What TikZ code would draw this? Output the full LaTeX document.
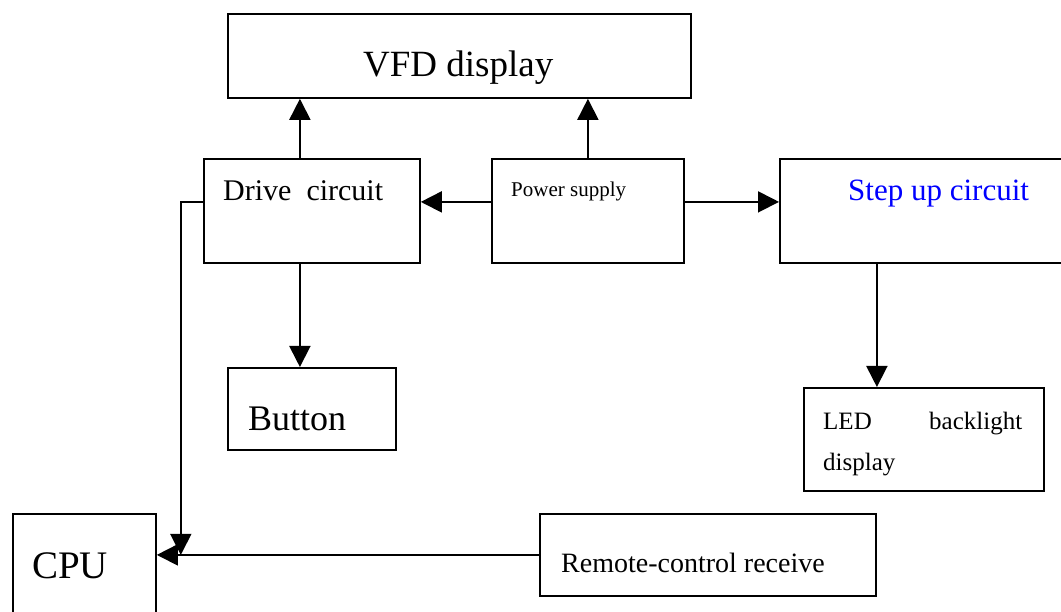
\documentclass[tikz,border=0pt]{standalone}
\usepackage{fontspec}
\setmainfont{Liberation Serif}
\usetikzlibrary{arrows.meta}

\begin{document}
\begin{tikzpicture}[x=1pt, y=-1pt,
	box/.style={draw, line width=1.8pt, inner sep=0pt, anchor=north west},
	txt/.style={inner sep=0pt, anchor=base west},
	arr/.style={line width=1.8pt, -{Triangle[length=21pt, width=21pt]}}]
	\useasboundingbox (0,0) rectangle (1061,612);
	\clip (0,0) rectangle (1061,612);

	% boxes
	\node[box, minimum width=463pt, minimum height=84pt] (vfd) at (227,13) {};
	\node[box, minimum width=216pt, minimum height=104pt] (drive) at (203,158) {};
	\node[box, minimum width=192pt, minimum height=104pt] (power) at (491,158) {};
	\node[box, minimum width=340pt, minimum height=104pt] (stepup) at (779,158) {};
	\node[box, minimum width=168pt, minimum height=82pt] (button) at (227,367) {};
	\node[box, minimum width=240pt, minimum height=103pt] (led) at (803,387) {};
	\node[box, minimum width=143pt, minimum height=130pt] (cpu) at (12,513) {};
	\node[box, minimum width=336pt, minimum height=82pt] (remote) at (539,513) {};

	% texts
	\node[txt, font=\fontsize{37}{40}\selectfont] (vfdtext) at (363,77) {VFD display};
	\node[txt, font=\fontsize{30}{34}\selectfont] (drivetext) at (223,201) {Drive~~circuit};
	\node[txt, font=\fontsize{21}{24}\selectfont] (powertext) at (511,197) {Power supply};
	\node[txt, font=\fontsize{31}{34}\selectfont, text=blue] (stepuptext) at (848,201) {Step up circuit};
	\node[txt, font=\fontsize{36}{40}\selectfont] (buttontext) at (248,431) {Button};
	\node[txt, font=\fontsize{25}{40}\selectfont, align=left, text width=199pt] (ledtext) at (823,430) {\hbox to 199pt{LED\hfill backlight}\\display};
	\node[txt, font=\fontsize{39}{42}\selectfont] (cputext) at (32,578) {CPU};
	\node[txt, font=\fontsize{28}{32}\selectfont] (remotetext) at (561,572) {Remote-control receive};

	% connectors
	\draw[arr] ([xshift=-12pt]drive.north) -- ([xshift=-12pt]drive.north |- vfd.south);
	\draw[arr] (power.north) -- (power.north |- vfd.south);
	\draw[arr] ([yshift=9pt]power.west) -- ([yshift=9pt]drive.east);
	\draw[arr] ([yshift=9pt]power.east) -- ([yshift=9pt]power.east -| stepup.west);
	\draw[arr] ([xshift=-12pt]drive.south) -- ([xshift=-12pt]button.north);
	\draw[arr] ([xshift=-47pt]led.north |- stepup.south) -- ([xshift=-47pt]led.north);
	\draw[arr] (remote.west) -- (remote.west -| cpu.east);
	\draw[arr] ([yshift=9pt]drive.west) -| ([xshift=24pt]cpu.east |- remote.west);
\end{tikzpicture}
\end{document}
